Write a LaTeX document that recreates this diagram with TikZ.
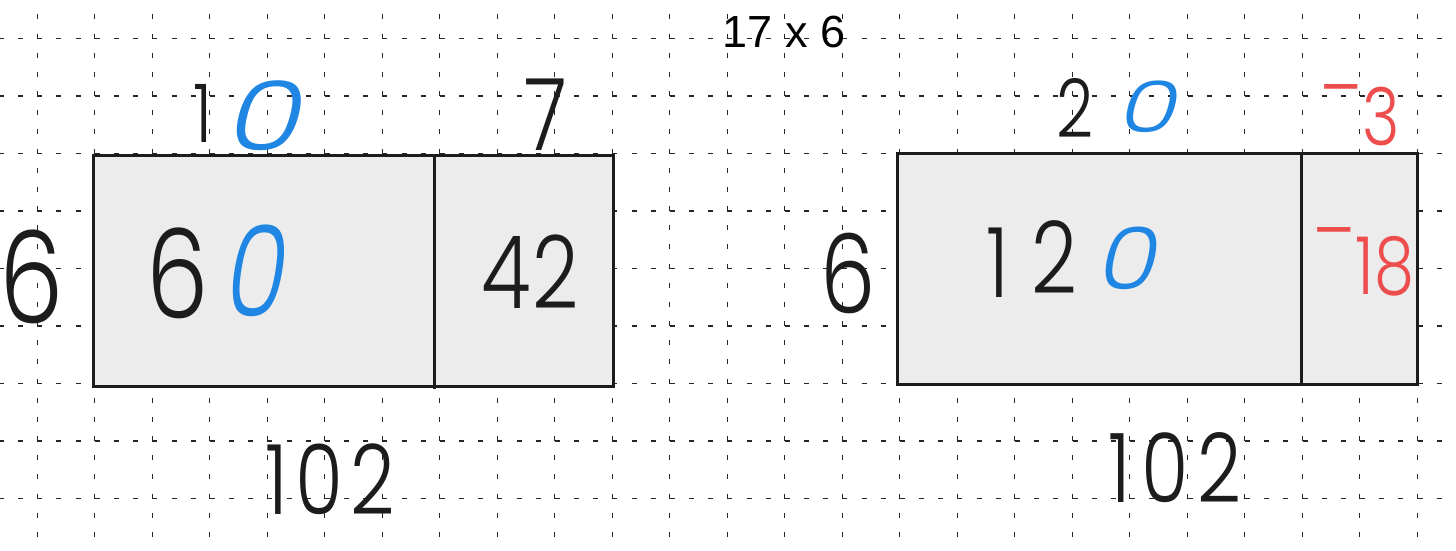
\documentclass[tikz,border=0pt]{standalone}
\usepackage{fontspec}
\setmainfont{Poppins}
\newfontfamily\hwfont[FakeStretch=0.8]{Poppins Light}
\newfontfamily\hwzero[FakeSlant=0.2]{Poppins Light}
\newfontfamily\labelfont{Liberation Sans}
\newcommand{\hwsize}[1]{\fontsize{#1pt}{#1pt}\selectfont}
\definecolor{ink}{HTML}{1C1C1E}
\definecolor{hwblue}{HTML}{1F86E3}
\definecolor{hwred}{HTML}{EE4D4D}
\definecolor{cellgray}{HTML}{ECECEC}
\tikzset{
  gridline/.style={draw=black!85, line width=1.1pt, dash pattern=on 5pt off 14.17pt},
  cellbox/.style={draw=ink, fill=cellgray, line width=3pt},
  divider/.style={draw=ink, line width=3pt},
  hw/.style={inner sep=0pt, outer sep=0pt, text=ink, font=\hwfont},
  hwb/.style={hw, text=hwblue, font=\hwzero},
  hwr/.style={hw, text=hwred},
}
\begin{document}
\begin{tikzpicture}[x=1pt,y=-1pt]
\useasboundingbox (0,0) rectangle (1456,550);
\fill[white] (0,0) rectangle (1456,550);
% dotted grid
\foreach \k in {0,...,24}
  \draw[gridline] ({37.3+57.5*\k},-4.8) -- ({37.3+57.5*\k},560);
\foreach \j in {0,...,8}
  \draw[gridline] (-20.2,{38.5+57.5*\j}) -- (1470,{38.5+57.5*\j});
% title
\node[inner sep=0pt, font=\labelfont\fontsize{45pt}{45pt}\selectfont, text=black] (title) at (784,32) {17 x 6};
% left area model
\draw[cellbox] (93,155) rectangle (613,386);
\draw[divider] (434,155) -- (434,389);
\node[hw] (l1) at (203,113) {\hwsize{81}1};
\node[hwb] (l0) at (260,116) {\hwsize{96}\scalebox{1.28}[1]{0}};
\node[hw] (l7) at (546,115) {\hwsize{100}7};
\node[hw] (l6) at (32,277) {\hwsize{128}6};
\node[hw] (l60a) at (178,273) {\hwsize{124}6};
\node[hwb] (l60b) at (252,271) {\hwsize{126}\scalebox{0.78}[1]{0}};
\node[hw] (l42) at (530,272) {\hwsize{101}4\kern2pt2};
\node[hw] (l102) at (330,479) {\hwsize{97}1\kern8pt0\kern7pt2};
% right area model
\draw[cellbox] (897,153) rectangle (1417,384);
\draw[divider] (1301,153) -- (1301,384);
\node[hw] (r2) at (1075,108) {\hwsize{81}2};
\node[hwb] (r0) at (1145,107) {\hwsize{71}\scalebox{1.35}[1]{0}};
\node[hwr] (rm3) at (1360,115) {\hwsize{80}\raisebox{0.36em}{–}3};
\node[hw] (r6) at (848,273) {\hwsize{110}6};
\node[hw] (r1) at (998,263) {\hwsize{97}1};
\node[hw] (r2b) at (1054,257) {\hwsize{100}2};
\node[hwb] (r0b) at (1124,258) {\hwsize{86}\scalebox{1.13}[1]{0}};
\node[hwr] (rm18) at (1364,262) {\hwsize{80}\raisebox{0.44em}{–}18};
\node[hw] (r102) at (1175,468) {\hwsize{96}1\kern11pt0\kern9pt2};
\end{tikzpicture}
\end{document}
